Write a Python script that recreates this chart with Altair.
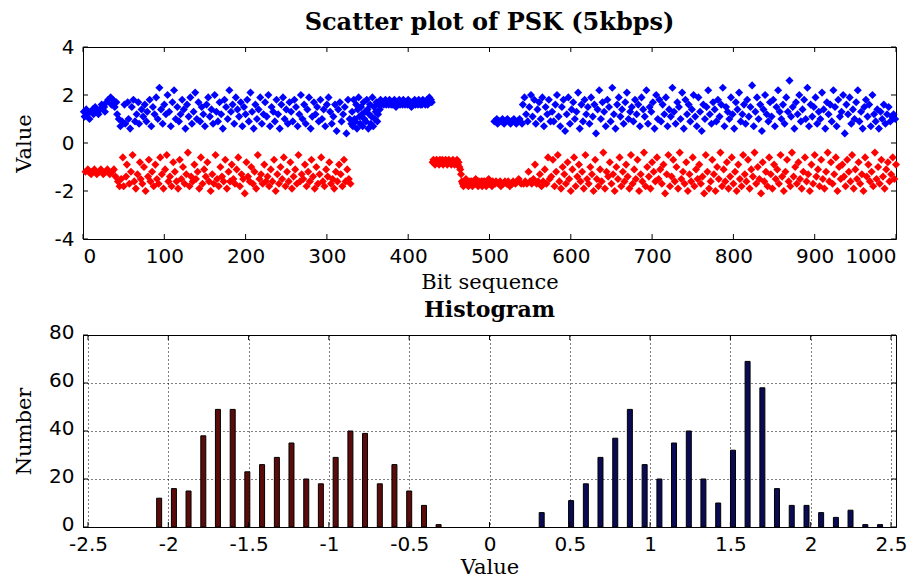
import altair as alt
import pandas as pd

# ---------------- scatter data: value of each received bit (bits 1..1000) ----------------
seg_a = [1.3, 1.1, -1.2, 1.4, 1.2, -1.1, -1.2, 1.0, 1.3, -1.3,
         -1.2, 1.4, 1.2, -1.1, 1.5, -1.2, -1.3, 1.3, 1.2, -1.2,
         1.4, -1.1, 1.6, -1.2, -1.3, 1.5, 1.3, -1.2, 1.7, -1.1,
         1.8, -1.2, -1.3, 1.9, 1.6, -1.2, 1.8, -1.1, 1.5, -1.4,
         1.7, 1.2, -1.6, 1.0, -1.8]
seg_b = [0.7, -1.5, 0.9, -0.6, -1.8, 1.6, 0.8, -1.4, -0.9, 1.7, 1.0, -1.7, 0.6, -1.2, 1.5,
         -0.5, 1.8, -1.6, 0.9, -1.9, 1.2, -1.3, 1.7, 0.8, -0.8, -1.5, 1.4, -1.7, 1.1, -1.0,
         1.6, -2.0, 0.9, 1.3, -1.4, -0.7, 1.8, -1.6, 0.7, -1.2, 1.5, -1.8, 1.2, -0.9, 1.9,
         -1.5, 1.0, -1.7, 2.3, -0.6, 1.4, -1.3, 0.8, -1.9, 1.6, -1.1, 1.2, -0.5, 2.0, -1.6,
         1.3, -1.4, 0.7, -1.8, 1.7, -0.8, 2.2, -1.2, 1.0, -1.6, 1.5, -1.9, 0.9, -0.7, 1.2,
         -1.5, 1.8, -1.0, 1.4, -1.7, 0.6, -1.3, 1.6, -0.4, 1.1, -1.8, 1.9, -1.4, 0.8, -1.6,
         1.3, -0.9, 2.1, -1.5, 1.0, -1.2, 1.7, -1.9, 0.9, -0.6, 1.5, -1.7, 1.2, -1.1, 0.7,
         -1.4, 1.6, -0.8, 1.9, -1.6, 1.1, -2.0, 1.4, -1.3, 0.8, -1.7, 2.0, -0.5, 1.3, -1.5,
         0.9, -1.8, 1.7, -1.0, 1.2, -1.4, 0.6, -1.6, 1.8, -0.7, 1.5, -1.9, 1.0, -1.2, 2.2,
         -1.6, 1.3, -0.9, 1.6, -1.5, 0.8, -1.7, 1.9, -1.1, 1.4, -0.6, 1.1, -1.8, 1.7, -1.3,
         0.7, -1.5, 1.5, -2.1, 1.2, -0.8, 1.8, -1.4, 0.9, -1.6, 2.1, -1.0, 1.3, -1.7, 0.6,
         -1.2, 1.6, -1.9, 1.0, -0.5, 1.4, -1.5, 1.9, -1.3, 0.8, -1.7, 1.2, -0.9, 1.7, -1.6,
         1.1, -1.4, 2.0, -1.8, 0.7, -1.1, 1.5, -1.6, 1.3, -0.7, 0.9, -2.0, 1.8, -1.3, 1.2,
         -1.7, 0.6, -1.0, 1.6, -1.5, 1.9, -0.6, 1.0, -1.8, 1.4, -1.2, 0.8, -1.6, 1.7, -0.8,
         1.3, -1.9, 0.9, -1.4, 1.8, -1.1, 1.5, -1.7, 0.7, -0.5, 1.2, -1.6, 2.0, -1.3, 1.0,
         -1.5, 1.6, -0.9, 0.8, -1.8, 1.4, -1.2, 1.9, -1.6, 0.6, -0.7, 1.1, -1.4, 1.7, -1.9,
         1.2, -1.0, 1.5, -1.7, 0.9, -1.3, 1.8, -0.6, 1.0, -1.6, 1.4, -1.8, 0.7, -1.1, 1.6,
         -1.4, 1.9, -0.8, 1.3, -1.7, 0.8, -1.5, 1.1, -1.9, 1.6, -1.2, 0.5, -1.6, 1.4, -0.9,
         1.7, -1.3, 0.9, -1.8, 1.2, -0.7, 1.5, -1.6, 0.4, -1.1, 1.8, -1.5, 1.0, -1.7, 0.8]
seg_c = [1.3, 0.7, 1.8, 1.0, 0.9, 1.6, 0.6, 1.4, 1.9, 1.1,
         0.8, 1.5, 1.2, 0.7, 1.7, 1.0, 1.3, 0.9, 1.8, 1.4,
         0.6, 1.2, 1.6, 0.8, 1.1, 1.9, 0.7, 1.5, 1.0, 1.3,
         1.7, 0.9, 1.2, 1.6, 1.4, 1.8, 1.6, 1.7]
seg_d = [1.7, 1.6, 1.7, 1.8, 1.6, 1.7, 1.7, 1.6, 1.8, 1.7,
         1.6, 1.7, 1.6, 1.7, 1.8, 1.7, 1.5, 1.7, 1.6, 1.7,
         1.8, 1.6, 1.7, 1.7, 1.6, 1.8, 1.7, 1.6, 1.7, 1.7,
         1.6, 1.8, 1.7, 1.6, 1.7, 1.5, 1.7, 1.6, 1.7, 1.8,
         1.6, 1.7, 1.7, 1.6, 1.8, 1.7, 1.6, 1.7, 1.6, 1.8,
         1.7, 1.7, 1.6, 1.7, 1.8, 1.6, 1.7, 1.9, 1.7, 1.8,
         1.7]
seg_e = [-0.8, -0.7, -0.8, -0.9, -0.8, -0.7, -0.8, -0.8, -0.9, -0.7,
         -0.8, -0.8, -0.7, -0.9, -0.8, -0.8, -0.7, -0.8, -0.9, -0.8,
         -0.7, -0.8, -0.8, -0.9, -0.8, -0.7, -0.8, -0.9, -0.8, -0.8,
         -0.7, -0.9, -0.8, -1.0, -1.1, -1.3]
seg_f = [-1.6, -1.7, -1.8, -1.6, -1.7, -1.5, -1.7, -1.6, -1.8, -1.7,
         -1.6, -1.7, -1.6, -1.8, -1.7, -1.6, -1.7, -1.5, -1.6, -1.7,
         -1.8, -1.6, -1.7, -1.7, -1.6, -1.8, -1.6, -1.7, -1.6, -1.7,
         -1.8, -1.6, -1.7, -1.5, -1.7, -1.6, -1.7, -1.8, -1.6, -1.7]
seg_g = [0.9, -1.7, -1.6, 1.0, 0.8, -1.7, 0.9, -1.6, -1.8, 0.9,
         1.0, -1.7, 0.8, -1.6, 0.9, -1.7, 1.0, -1.6, 0.9, -1.8,
         0.8, 0.9, -1.7, -1.6, 1.0, 0.9, -1.7, 0.8, -1.6, 0.9,
         -1.5, 1.0, 0.9, -1.7, 0.8]
seg_h = [1.6, -1.7, 1.9, -1.6, 1.2, -1.7, 0.9, -1.2, 1.5, -1.6,
         2.0, -1.7, 1.1, -1.5, 1.8, -0.9, 0.8, -1.7, 1.4, -1.6,
         1.7, -1.3, 1.0, -1.8, 1.9, -1.6, 0.7, -1.1, 1.5, -1.7,
         1.2, -0.6, 1.8, -1.5, 0.9]
seg_i = [-1.4, 1.3, -0.7, 0.9, -1.8, 1.6, -1.2, 2.0, -0.5, 1.1, -1.6, 0.7, -1.9, 1.5, -1.0,
         1.8, -1.3, 0.5, -1.7, 1.2, -0.8, 1.9, -1.5, 0.8, -2.0, 1.4, -1.1, 1.7, -0.6, 1.0,
         -1.8, 1.3, -1.4, 2.1, -0.9, 0.6, -1.6, 1.6, -1.2, 0.9, -1.9, 1.8, -0.5, 1.2, -1.5,
         1.5, -1.7, 0.8, -1.0, 1.9, -1.3, 1.1, -2.0, 1.6, -0.7, 0.4, -1.5, 1.4, -1.8, 2.2,
         -1.1, 1.0, -1.6, 1.7, -0.4, 1.3, -1.9, 0.7, -1.2, 1.8, -1.4, 1.5, -0.8, 0.9, -1.7,
         2.3, -1.3, 1.2, -2.0, 0.6, -1.0, 1.6, -1.5, 1.9, -0.6, 1.1, -1.8, 1.4, -1.2, 0.8,
         -1.6, 1.7, -0.9, 2.1, -1.4, 1.0, -1.9, 1.3, -0.5, 1.5, -1.7, 0.9, -1.1, 1.8, -1.5,
         1.2, -0.7, 1.6, -2.0, 0.7, -1.3, 1.9, -1.6, 1.4, -0.4, 1.1, -1.8, 2.2, -1.0, 0.8,
         -1.4, 1.5, -1.9, 1.3, -0.8, 1.7, -1.2, 0.6, -1.6, 2.0, -0.6, 1.0, -1.5, 1.8, -1.1,
         0.9, -1.7, 1.6, -0.9, 1.2, -2.1, 1.9, -1.3, 0.7, -0.5, 1.4, -1.8, 1.1, -1.4, 2.3,
         -0.7, 1.3, -1.6, 0.8, -1.0, 1.7, -1.9, 1.5, -0.4, 1.0, -1.5, 2.1, -1.2, 0.6, -1.7,
         1.8, -0.8, 1.2, -2.0, 1.6, -1.3, 0.9, -1.6, 1.4, -0.6, 2.0, -1.8, 1.1, -1.1, 0.7,
         -1.5, 1.9, -0.9, 1.3, -1.7, 0.5, -1.4, 1.6, -2.1, 1.0, -0.5, 1.5, -1.2, 2.2, -1.9,
         1.2, -1.6, 0.8, -0.7, 1.7, -1.3, 1.4, -2.0, 0.9, -1.0, 1.8, -1.5, 1.1, -0.4, 1.6,
         -1.8, 2.3, -1.1, 0.7, -1.6, 1.5, -0.8, 1.3, -1.9, 1.0, -1.4, 1.9, -0.6, 1.2, -1.7,
         0.6, -1.2, 1.7, -2.0, 1.4, -0.9, 2.1, -1.5, 0.9, -1.8, 1.2, -0.5, 1.6, -1.3, 0.8,
         -1.6, 1.8, -0.7, 1.1, -1.9, 1.5, -1.1, 2.4, -1.4, 0.7, -0.4, 1.3, -1.7, 1.9, -1.0,
         1.0, -1.5, 1.6, -2.1, 0.5, -0.8, 1.4, -1.6, 2.0, -1.2, 1.2, -1.8, 0.9, -0.6, 1.7,
         -1.3, 1.1, -1.9, 1.8, -0.9, 0.7, -1.5, 1.5, -1.1, 2.2, -1.7, 1.3, -0.5, 1.0, -1.4,
         1.6, -2.0, 0.8, -1.2, 1.9, -0.7, 1.3, -1.6, 2.6, -1.8, 1.1, -0.4, 1.5, -1.4, 0.6,
         -1.0, 1.7, -1.7, 1.2, -0.8, 2.0, -1.5, 0.9, -1.9, 1.4, -1.2, 1.8, -0.6, 1.0, -1.6,
         2.3, -1.3, 0.7, -2.0, 1.6, -0.9, 1.1, -1.7, 1.5, -0.5, 1.9, -1.4, 0.8, -1.1, 1.3,
         -1.8, 1.0, -0.7, 2.1, -1.5, 1.4, -1.9, 0.6, -1.2, 1.7, -0.4, 1.2, -1.6, 1.6, -0.8,
         0.9, -1.7, 2.2, -1.3, 1.5, -0.6, 0.7, -2.0, 1.8, -1.0, 1.1, -1.5, 1.3, -0.9, 2.0,
         -1.4, 0.4, -1.8, 1.6, -0.7, 1.2, -1.2, 1.9, -1.6, 0.8, -0.5, 1.4, -1.9, 1.0, -1.1,
         1.7, -1.5, 2.2, -0.8, 0.9, -1.7, 1.3, -1.3, 0.6, -2.0, 1.5, -0.6, 1.8, -1.4, 1.1,
         -0.9, 1.6, -1.6, 0.7, -1.2, 2.0, -1.8, 1.2, -0.4, 0.9, -1.5, 1.4, -1.0, 0.6, -1.7,
         1.3, -0.7, 1.0, -1.4, 1.6, -1.9, 0.8, -1.1, 1.2, -0.8, 1.5, -1.6, 0.9, -1.3, 1.1,
         -0.6, 1.2, -1.5, 1.0, -0.9]

bit_values = seg_a + seg_b + seg_c + seg_d + seg_e + seg_f + seg_g + seg_h + seg_i
bit_index = list(range(1, len(bit_values) + 1))

# ---------------- histogram data (bin centres and counts) ----------------
neg_centers = [-2.057, -1.965, -1.874, -1.782, -1.691, -1.599, -1.508, -1.416, -1.324, -1.233,
               -1.141, -1.050, -0.958, -0.866, -0.775, -0.683, -0.592, -0.500, -0.408, -0.317]
neg_counts = [12, 16, 15, 38, 49, 49, 23, 26, 29, 35, 20, 18, 29, 40, 39, 18, 26, 15, 9, 1]
pos_centers = [0.325, 0.508, 0.600, 0.691, 0.783, 0.874, 0.966, 1.058, 1.149, 1.241, 1.332, 1.424,
               1.516, 1.607, 1.699, 1.790, 1.882, 1.974, 2.065, 2.157, 2.248, 2.340, 2.432]
pos_counts = [6, 11, 18, 29, 37, 49, 26, 20, 35, 40, 20, 10, 32, 69, 58, 16, 9, 9, 6, 4, 7, 1, 1]

scatter_x_ticks = [0, 100, 200, 300, 400, 500, 600, 700, 800, 900, 1000]
scatter_y_ticks = [-4, -2, 0, 2, 4]
hist_x_ticks = [-2.5, -2, -1.5, -1, -0.5, 0, 0.5, 1, 1.5, 2, 2.5]
hist_y_ticks = [0, 20, 40, 60, 80]

W, H = 813, 192
TICK = 5
PLAIN = "'' + datum.value"

scatter_df = pd.DataFrame({
    "bit": bit_index,
    "value": bit_values,
    "sign": ["pos" if v > 0 else "neg" for v in bit_values],
})
hist_df = pd.DataFrame({
    "center": neg_centers + pos_centers,
    "count": neg_counts + pos_counts,
    "side": ["neg"] * len(neg_centers) + ["pos"] * len(pos_centers),
})


def inward_ticks(xvals, yvals, xfield, yfield):
    xt = pd.DataFrame({xfield: xvals})
    yt = pd.DataFrame({yfield: yvals})
    rx = alt.X(f"{xfield}:Q")
    ry = alt.Y(f"{yfield}:Q")
    bottom = alt.Chart(xt).mark_rule(color="black", strokeWidth=1).encode(
        x=rx, y=alt.value(H), y2=alt.value(H - TICK))
    top = alt.Chart(xt).mark_rule(color="black", strokeWidth=1).encode(
        x=rx, y=alt.value(0), y2=alt.value(TICK))
    left = alt.Chart(yt).mark_rule(color="black", strokeWidth=1).encode(
        y=ry, x=alt.value(0), x2=alt.value(TICK))
    right = alt.Chart(yt).mark_rule(color="black", strokeWidth=1).encode(
        y=ry, x=alt.value(W), x2=alt.value(W - TICK))
    return [bottom, top, left, right]


sx = alt.Scale(domain=[0, 1000], nice=False, zero=False)
sy = alt.Scale(domain=[-4, 4], nice=False, zero=False)

points = alt.Chart(scatter_df).mark_point(shape="diamond", filled=True, size=65, opacity=1).encode(
    x=alt.X("bit:Q", scale=sx,
            axis=alt.Axis(values=scatter_x_ticks, title="Bit sequence", grid=False,
                          labelPadding=7, titlePadding=5, labelExpr=PLAIN)),
    y=alt.Y("value:Q", scale=sy,
            axis=alt.Axis(values=scatter_y_ticks, title="Value", grid=False,
                          labelPadding=9, titleX=-59, titleBaseline="middle", labelExpr=PLAIN)),
    color=alt.Color("sign:N", scale=alt.Scale(domain=["pos", "neg"], range=["#0000ff", "#ff0000"]),
                    legend=None),
)

top_chart = alt.layer(points, *inward_ticks(scatter_x_ticks, scatter_y_ticks, "bit", "value")).properties(
    width=W, height=H,
    title=alt.Title("Scatter plot of PSK (5kbps)", fontSize=24, offset=2),
)

hx = alt.Scale(domain=[-2.5, 2.5], nice=False, zero=False)
hy = alt.Scale(domain=[0, 80], nice=False)
grid_style = dict(grid=True, gridDash=[1, 3], gridColor="black", gridOpacity=1, gridWidth=1)

bars = alt.Chart(hist_df).mark_bar(size=5, stroke="black", strokeWidth=1).encode(
    x=alt.X("center:Q", scale=hx,
            axis=alt.Axis(values=hist_x_ticks, title="Value", labelPadding=7, titlePadding=2,
                          labelExpr=PLAIN, **grid_style)),
    y=alt.Y("count:Q", scale=hy,
            axis=alt.Axis(values=hist_y_ticks, title="Number", labelPadding=9, labelOffset=-3,
                          titleX=-59, titleBaseline="middle", labelExpr=PLAIN, **grid_style)),
    color=alt.Color("side:N", scale=alt.Scale(domain=["neg", "pos"], range=["#5c0b0b", "#0b0b55"]),
                    legend=None),
)

bottom_chart = alt.layer(bars, *inward_ticks(hist_x_ticks, hist_y_ticks, "center", "count")).properties(
    width=W, height=H,
    title=alt.Title("Histogram", fontSize=22, offset=0),
)

chart = alt.vconcat(top_chart, bottom_chart, spacing=5).resolve_scale(
    color="independent"
).properties(
    padding={"left": 12, "top": 10, "right": 2, "bottom": 0},
    background="white",
).configure_view(
    stroke="black", strokeWidth=1,
).configure_axis(
    labelFont="DejaVu Sans", labelFontSize=20, labelColor="black",
    titleFont="DejaVu Serif", titleFontSize=21, titleFontWeight="normal", titleColor="black",
    ticks=False, domain=False,
).configure_title(
    font="DejaVu Serif", fontWeight="bold", color="black", anchor="middle",
)

chart.save("out.html", embed_options={"renderer": "svg", "actions": False})
